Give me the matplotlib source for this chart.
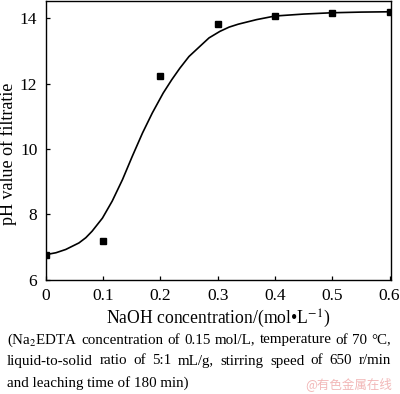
import matplotlib
matplotlib.use('Agg', force=True)
import matplotlib.pyplot as plt

# measured points
naoh = [0.0, 0.1, 0.2, 0.3, 0.4, 0.5, 0.6]
ph = [6.76, 7.17, 12.23, 13.83, 14.07, 14.17, 14.2]

# fitted curve
curve_x = [0.0, 0.018, 0.035, 0.058, 0.07, 0.081, 0.099, 0.116, 0.134, 0.151, 0.169,
           0.186, 0.205, 0.22, 0.234, 0.25, 0.269, 0.285, 0.304, 0.32, 0.336, 0.368,
           0.40, 0.45, 0.50, 0.55, 0.60]
curve_y = [6.76, 6.82, 6.92, 7.12, 7.28, 7.48, 7.88, 8.4, 9.06, 9.77, 10.49,
           11.1, 11.71, 12.12, 12.47, 12.83, 13.14, 13.4, 13.6, 13.73, 13.82, 13.96,
           14.07, 14.13, 14.17, 14.19, 14.2]

xticks = [0, 0.1, 0.2, 0.3, 0.4, 0.5, 0.6]
xtick_labels = ['0', '0.1', '0.2', '0.3', '0.4', '0.5', '0.6']
yticks = [6, 8, 10, 12, 14]

caption = ['(Na$_2$EDTA concentration of 0.15 mol/L, temperature of 70 \u00b0C,',
           'liquid-to-solid ratio of 5:1 mL/g, stirring speed of 650 r/min',
           'and leaching time of 180 min)']

plt.rcParams['font.family'] = ['Liberation Serif', 'DejaVu Serif']
plt.rcParams['mathtext.fontset'] = 'stix'

fig = plt.figure(figsize=(4.0, 3.94), dpi=100)
ax = fig.add_axes([45.7 / 400, 1 - 279.5 / 394, 345 / 400, 278.5 / 394])

ax.plot(curve_x, curve_y, color='black', lw=1.2, solid_joinstyle='round')
ax.plot(naoh, ph, 's', color='black', ms=5, clip_on=True)

ax.set_xlim(0, 0.602)
ax.set_ylim(6, 14.53)
ax.set_xticks(xticks)
ax.set_xticklabels(xtick_labels)
ax.set_yticks(yticks)
ax.tick_params(direction='in', length=3, width=0.9, pad=6, labelsize=12.5)
for s in ax.spines.values():
    s.set_linewidth(1.0)

ax.set_xlabel('NaOH concentration/(mol\u2022L$^{-1}$)', fontsize=12.7, labelpad=3)
ax.set_ylabel('pH value of filtratie', fontsize=13)
ax.yaxis.set_label_coords(-0.082, 0.45)

# justified caption lines
fig.canvas.draw()
renderer = fig.canvas.get_renderer()
x0, x1 = 7 / 400, 391 / 400
ys = [1 - 340 / 394, 1 - 361 / 394, 1 - 383 / 394]
for i, line in enumerate(caption):
    if i < 2:
        words = line.split(' ')
        arts = [fig.text(0, ys[i], w, fontsize=10.8, va='center') for w in words]
        widths = [a.get_window_extent(renderer).width / fig.bbox.width for a in arts]
        gap = (x1 - x0 - sum(widths)) / (len(words) - 1)
        pos = x0
        for a, w in zip(arts, widths):
            a.set_x(pos)
            pos += w + gap
    else:
        fig.text(x0, ys[i], line, fontsize=10.8, va='center')

fig.text(0.98, 1 - 384 / 394, '@有色金属在线', fontsize=9, color='#f2b8b8', ha='right',
         va='center', family=['Noto Sans CJK SC', 'DejaVu Sans'])

fig.savefig('out.png', dpi=100)
